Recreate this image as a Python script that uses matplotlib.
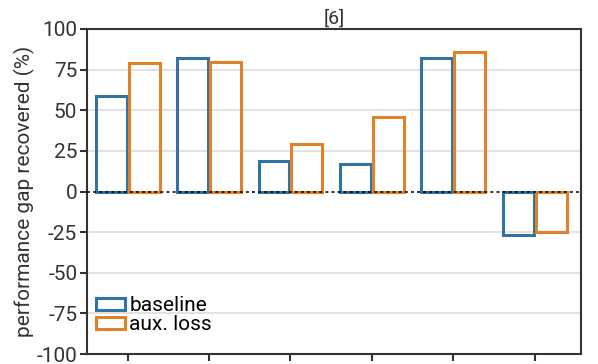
import numpy as np
import matplotlib.pyplot as plt
from matplotlib.patches import Patch

plt.rcParams['font.family'] = ['Roboto', 'DejaVu Sans']

# values
groups = ['', '', '', '', '', '']
baseline = [59, 82, 19, 17, 82, -27]
aux_loss = [79, 80, 29, 46, 86, -25]
series_names = ['baseline', 'aux. loss']
colors = ['#3274a1', '#e1812c']

fig = plt.figure(figsize=(5.98, 3.64), dpi=100)
ax = fig.add_axes([87/598, 10/364, 494/598, 325/364])

x = np.arange(len(groups))
w = 0.38
for vals, off, c in [(baseline, -w/2 - 0.012, colors[0]), (aux_loss, w/2 + 0.012, colors[1])]:
    ax.bar(x + off, vals, width=w, facecolor='none', edgecolor=c, linewidth=2.2, zorder=3)

ax.axhline(0, color='black', linestyle=(0, (2, 2)), linewidth=1.1, zorder=4)
ax.set_ylim(-100, 100)
ax.set_xlim(-0.5, 5.57)
ax.set_yticks([100, 75, 50, 25, 0, -25, -50, -75, -100])
ax.set_yticklabels(['100', '75', '50', '25', '0', '-25', '-50', '-75', '-100'], fontsize=15, color='#333333')
ax.set_xticks(x)
ax.set_xticklabels(groups)
for yv in [75, 50, 25, -25, -50, -75]:
    ax.axhline(yv, color='#dddddd', linewidth=1.2, zorder=1)
ax.tick_params(axis='both', length=5, width=1.5, color='#333333', pad=2)
for s in ax.spines.values():
    s.set_color('#333333')
    s.set_linewidth(1.5)

ax.set_ylabel('performance gap recovered (%)', fontsize=15, color='#333333', labelpad=1)
ax.set_title('[6]', fontsize=14, color='#333333', pad=4)

handles = [Patch(facecolor='none', edgecolor=c, linewidth=2.2) for c in colors]
ax.legend(handles, series_names, loc='lower left', frameon=False, fontsize=15,
          handlelength=1.4, handleheight=0.5, handletextpad=0.2, labelspacing=0.0,
          borderaxespad=0.2, bbox_to_anchor=(-0.007, 0.023))

fig.savefig('out.png', dpi=100)
